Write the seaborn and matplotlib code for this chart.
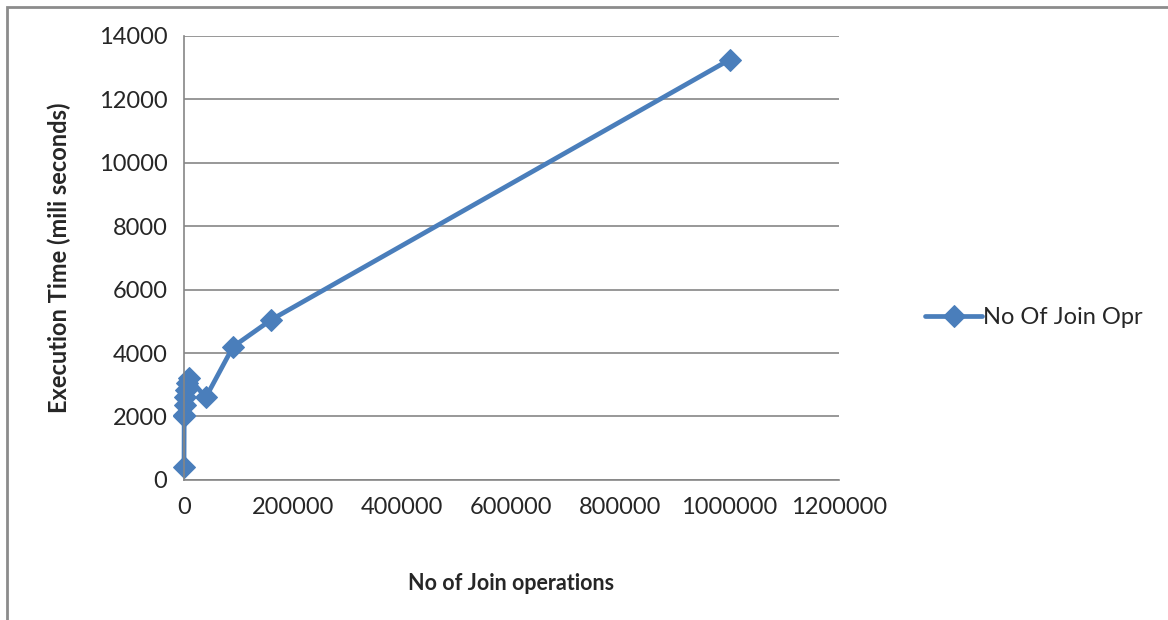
import numpy as np
import pandas as pd
import matplotlib.pyplot as plt
import seaborn as sns
from matplotlib.patches import Rectangle

# Data
join_ops = [100, 400, 900, 1600, 2500, 3600, 4900, 10000, 40000, 90000, 160000, 1000000]
exec_time = [400, 2000, 2050, 2350, 2600, 2850, 3050, 3200, 2600, 4200, 5050, 13250]
series_name = "No Of Join Opr"

x_ticks = [0, 200000, 400000, 600000, 800000, 1000000, 1200000]
y_ticks = [0, 2000, 4000, 6000, 8000, 10000, 12000, 14000]

LINE_COLOR = "#4A7EBB"
GRID_COLOR = "#868686"

sns.set_style("white")
plt.rcParams["font.family"] = ["Lato", "DejaVu Sans"]

df = pd.DataFrame({"ops": join_ops, "time": exec_time})

fig = plt.figure(figsize=(11.68, 6.2), dpi=100)
ax = fig.add_axes([0.1575, 0.226, 0.5605, 0.716])

sns.lineplot(data=df, x="ops", y="time", ax=ax, sort=False,
             color=LINE_COLOR, linewidth=3.4, marker="D", markersize=11,
             markeredgecolor=LINE_COLOR, label=series_name, clip_on=False)

ax.set_xlim(0, 1200000)
ax.set_ylim(0, 14000)
ax.set_xticks(x_ticks)
ax.set_yticks(y_ticks)
ax.set_xticklabels([str(v) for v in x_ticks], fontsize=17)
ax.set_yticklabels([str(v) for v in y_ticks], fontsize=17)

# horizontal gridlines only
ax.yaxis.grid(True, color=GRID_COLOR, linewidth=1.2)
ax.xaxis.grid(False)
ax.set_axisbelow(True)

for side in ["top", "right"]:
    ax.spines[side].set_visible(False)
for side in ["left", "bottom"]:
    ax.spines[side].set_color(GRID_COLOR)
    ax.spines[side].set_linewidth(1.2)

ax.tick_params(axis="both", direction="out", length=6, width=1.2,
               color=GRID_COLOR, pad=6)

ax.set_xlabel("No of Join operations", fontsize=15.5, fontweight="bold", labelpad=40)
ax.set_ylabel("Execution Time (mili seconds)", fontsize=17, fontweight="bold", labelpad=20)

leg = ax.legend(loc="center left", bbox_to_anchor=(1.1, 0.365), frameon=False,
                fontsize=17, handlelength=2.4, handletextpad=0.05)

# outer chart frame
fig.patches.append(Rectangle((0.006, -0.02), 1.1, 1.009, transform=fig.transFigure,
                             fill=False, edgecolor="#8C8C8C", linewidth=2))

fig.savefig("out.png", dpi=100)
